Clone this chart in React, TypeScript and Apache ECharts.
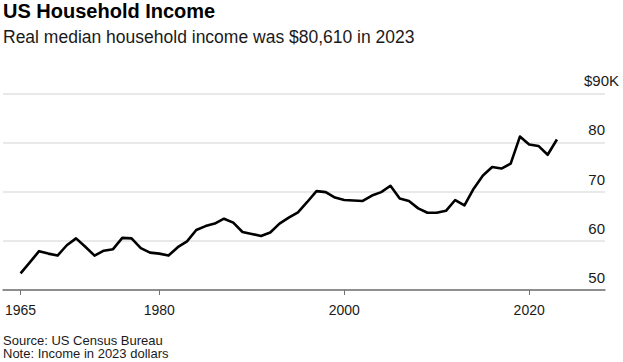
import React, { useEffect, useRef } from "react";
import * as echarts from "echarts";

const years = [
  1965, 1966, 1967, 1968, 1969, 1970, 1971, 1972, 1973, 1974,
  1975, 1976, 1977, 1978, 1979, 1980, 1981, 1982, 1983, 1984,
  1985, 1986, 1987, 1988, 1989, 1990, 1991, 1992, 1993, 1994,
  1995, 1996, 1997, 1998, 1999, 2000, 2001, 2002, 2003, 2004,
  2005, 2006, 2007, 2008, 2009, 2010, 2011, 2012, 2013, 2014,
  2015, 2016, 2017, 2018, 2019, 2020, 2021, 2022, 2023,
];

// Real median household income, thousands of 2023 dollars
const income = [
  53.4, 55.6, 57.9, 57.4, 57.0, 59.1, 60.5, 58.8, 57.0, 58.0,
  58.3, 60.6, 60.5, 58.5, 57.6, 57.4, 57.0, 58.7, 59.9, 62.2,
  63.0, 63.5, 64.5, 63.7, 61.8, 61.4, 61.0, 61.7, 63.5, 64.7,
  65.8, 67.9, 70.1, 69.9, 68.8, 68.3, 68.2, 68.1, 69.2, 69.9,
  71.2, 68.6, 68.1, 66.6, 65.7, 65.7, 66.1, 68.3, 67.2, 70.6,
  73.3, 75.0, 74.7, 75.7, 81.2, 79.6, 79.3, 77.5, 80.6,
];

const xTickYears = [1965, 1980, 2000, 2020];
const yTicks = [50, 60, 70, 80, 90];

const titleText = "US Household Income";
const subtitleText = "Real median household income was $80,610 in 2023";
const sourceText = "Source: US Census Bureau";
const noteText = "Note: Income in 2023 dollars";

const FONT = "Liberation Sans, Arial, Helvetica, sans-serif";

export default function App() {
  const ref = useRef<HTMLDivElement>(null);

  useEffect(() => {
    document.body.style.margin = "0";
    if (!ref.current) return;
    const chart = echarts.init(ref.current, undefined, { renderer: "svg" });
    const data = years.map((y, i) => [y, income[i]]);
    chart.setOption({
      animation: false,
      backgroundColor: "#ffffff",
      textStyle: { fontFamily: FONT },
      grid: {
        left: 3,
        right: 18,
        top: 93.3,
        bottom: 72,
        containLabel: false,
      },
      xAxis: {
        type: "value",
        min: 1963.1,
        max: 2028.2,
        splitLine: { show: false },
        axisLine: { show: true, lineStyle: { color: "#707070", width: 1.5 } },
        axisTick: {
          show: true,
          customValues: xTickYears,
          length: 5,
          lineStyle: { color: "#707070", width: 1 },
        },
        axisLabel: {
          customValues: xTickYears,
          margin: 13,
          fontSize: 14,
          color: "#1a1a1a",
          fontFamily: FONT,
          formatter: (v: number) => String(v),
        },
      },
      yAxis: {
        type: "value",
        position: "right",
        min: yTicks[0],
        max: yTicks[yTicks.length - 1],
        interval: 10,
        axisLine: { show: false },
        axisTick: { show: false },
        splitLine: { show: true, lineStyle: { color: "#e2e2e2", width: 1.5 } },
        axisLabel: {
          inside: true,
          margin: -14,
          align: "right",
          verticalAlign: "bottom",
          formatter: (v: number) =>
            v === 90 ? "{t|$" + v + "K}" : "{n|" + v + "}",
          rich: {
            t: {
              fontSize: 15,
              fontFamily: FONT,
              color: "#1a1a1a",
              padding: [0, 0, 5, 0],
            },
            n: {
              fontSize: 15,
              fontFamily: FONT,
              color: "#1a1a1a",
              padding: [0, 14, 5, 0],
            },
          },
        },
      },
      series: [
        {
          type: "line",
          data,
          showSymbol: false,
          symbol: "none",
          lineStyle: { color: "#000000", width: 2.6, join: "round" },
          silent: true,
        },
      ],
      graphic: [
        {
          type: "text",
          x: 3,
          y: 11,
          style: {
            text: titleText,
            font: "bold 20px " + FONT,
            fill: "#000000",
            textVerticalAlign: "middle",
          },
        },
        {
          type: "text",
          x: 3,
          y: 36.5,
          style: {
            text: subtitleText,
            font: "17.5px " + FONT,
            fill: "#1a1a1a",
            textVerticalAlign: "middle",
          },
        },
        {
          type: "text",
          x: 3,
          y: 340,
          style: {
            text: sourceText,
            font: "13px " + FONT,
            fill: "#1a1a1a",
            textVerticalAlign: "middle",
          },
        },
        {
          type: "text",
          x: 3,
          y: 353.5,
          style: {
            text: noteText,
            font: "13px " + FONT,
            fill: "#1a1a1a",
            textVerticalAlign: "middle",
          },
        },
      ],
    });
    return () => chart.dispose();
  }, []);

  return (
    <div
      ref={ref}
      style={{ position: "absolute", left: 0, top: 0, width: 623, height: 362 }}
    />
  );
}
